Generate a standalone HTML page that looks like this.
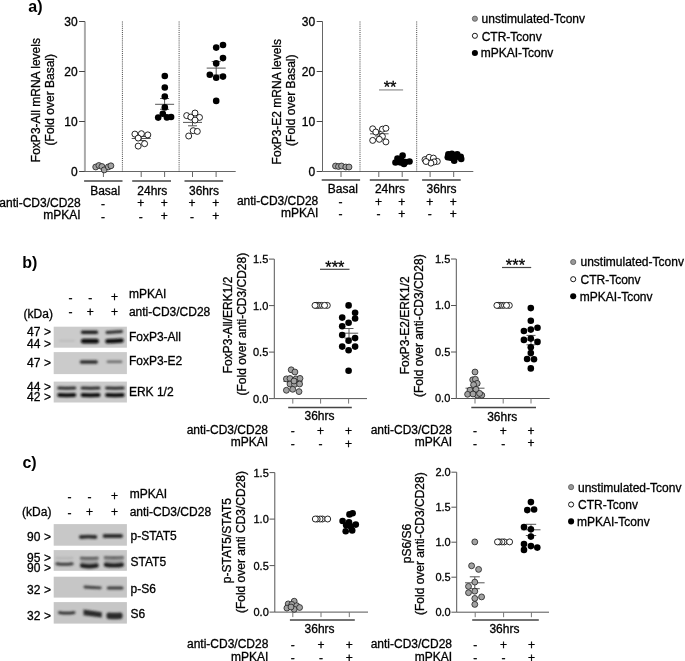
<!DOCTYPE html>
<html><head><meta charset="utf-8"><title>Figure</title>
<style>
html,body{margin:0;padding:0;background:#fff;}
body{width:685px;height:661px;overflow:hidden;}
svg{display:block;font-family:"Liberation Sans", Arial, Helvetica, sans-serif;filter:blur(0.35px);}
text{stroke:#000;stroke-width:0.3px;}
</style></head>
<body>
<svg width="685" height="661" viewBox="0 0 685 661">
<defs>
<filter id="bl" x="-20%" y="-80%" width="140%" height="260%"><feGaussianBlur stdDeviation="0.85"/></filter>
</defs>
<rect width="685" height="661" fill="#fff"/>
<line x1="131.70" y1="138.50" x2="150.70" y2="138.50" stroke="#555" stroke-width="1" />
<line x1="141.20" y1="136.50" x2="141.20" y2="140.50" stroke="#555" stroke-width="1" />
<line x1="136.70" y1="136.50" x2="145.70" y2="136.50" stroke="#555" stroke-width="1" />
<line x1="136.70" y1="140.50" x2="145.70" y2="140.50" stroke="#555" stroke-width="1" />
<line x1="155.10" y1="104.30" x2="174.10" y2="104.30" stroke="#555" stroke-width="1" />
<line x1="164.60" y1="98.50" x2="164.60" y2="109.30" stroke="#555" stroke-width="1" />
<line x1="160.10" y1="98.50" x2="169.10" y2="98.50" stroke="#555" stroke-width="1" />
<line x1="160.10" y1="109.30" x2="169.10" y2="109.30" stroke="#555" stroke-width="1" />
<line x1="183.00" y1="122.40" x2="202.00" y2="122.40" stroke="#555" stroke-width="1" />
<line x1="192.50" y1="119.00" x2="192.50" y2="125.80" stroke="#555" stroke-width="1" />
<line x1="188.00" y1="119.00" x2="197.00" y2="119.00" stroke="#555" stroke-width="1" />
<line x1="188.00" y1="125.80" x2="197.00" y2="125.80" stroke="#555" stroke-width="1" />
<line x1="206.70" y1="68.10" x2="225.70" y2="68.10" stroke="#555" stroke-width="1" />
<line x1="216.20" y1="61.60" x2="216.20" y2="75.00" stroke="#555" stroke-width="1" />
<line x1="211.70" y1="61.60" x2="220.70" y2="61.60" stroke="#555" stroke-width="1" />
<line x1="211.70" y1="75.00" x2="220.70" y2="75.00" stroke="#555" stroke-width="1" />
<line x1="84.90" y1="21.50" x2="84.90" y2="171.50" stroke="#aaa" stroke-width="2" />
<line x1="79.10" y1="171.50" x2="84.90" y2="171.50" stroke="#444" stroke-width="1" />
<text x="77.60" y="175.80" font-size="12" text-anchor="end" >0</text>
<line x1="79.10" y1="121.50" x2="84.90" y2="121.50" stroke="#444" stroke-width="1" />
<text x="77.60" y="125.80" font-size="12" text-anchor="end" >10</text>
<line x1="79.10" y1="71.50" x2="84.90" y2="71.50" stroke="#444" stroke-width="1" />
<text x="77.60" y="75.80" font-size="12" text-anchor="end" >20</text>
<line x1="79.10" y1="21.50" x2="84.90" y2="21.50" stroke="#444" stroke-width="1" />
<text x="77.60" y="25.80" font-size="12" text-anchor="end" >30</text>
<line x1="84.90" y1="171.50" x2="235.70" y2="171.50" stroke="#666" stroke-width="1.2" />
<line x1="103.40" y1="171.50" x2="103.40" y2="177.00" stroke="#666" stroke-width="1" />
<line x1="141.20" y1="171.50" x2="141.20" y2="177.00" stroke="#666" stroke-width="1" />
<line x1="164.60" y1="171.50" x2="164.60" y2="177.00" stroke="#666" stroke-width="1" />
<line x1="192.50" y1="171.50" x2="192.50" y2="177.00" stroke="#666" stroke-width="1" />
<line x1="216.10" y1="171.50" x2="216.10" y2="177.00" stroke="#666" stroke-width="1" />
<line x1="122.40" y1="21.50" x2="122.40" y2="171.50" stroke="#444" stroke-width="1" stroke-dasharray="1 1.1"/>
<line x1="179.10" y1="21.50" x2="179.10" y2="171.50" stroke="#444" stroke-width="1" stroke-dasharray="1 1.1"/>
<line x1="84.10" y1="180.90" x2="122.50" y2="180.90" stroke="#444" stroke-width="1.5" />
<line x1="132.20" y1="180.90" x2="171.00" y2="180.90" stroke="#444" stroke-width="1.5" />
<line x1="184.50" y1="180.90" x2="223.10" y2="180.90" stroke="#444" stroke-width="1.5" />
<text x="105.20" y="195.30" font-size="12" text-anchor="middle" >Basal</text>
<text x="152.30" y="195.30" font-size="12" text-anchor="middle" >24hrs</text>
<text x="204.00" y="195.30" font-size="12" text-anchor="middle" >36hrs</text>
<text x="80.70" y="206.60" font-size="12" text-anchor="end" >anti-CD3/CD28</text>
<text x="80.70" y="219.20" font-size="12" text-anchor="end" >mPKAI</text>
<text x="103.00" y="207.50" font-size="12" text-anchor="middle" >-</text>
<text x="140.80" y="207.10" font-size="12" text-anchor="middle" >+</text>
<text x="164.20" y="207.10" font-size="12" text-anchor="middle" >+</text>
<text x="192.10" y="207.10" font-size="12" text-anchor="middle" >+</text>
<text x="215.70" y="207.10" font-size="12" text-anchor="middle" >+</text>
<text x="103.00" y="220.50" font-size="12" text-anchor="middle" >-</text>
<text x="140.80" y="220.50" font-size="12" text-anchor="middle" >-</text>
<text x="164.20" y="220.10" font-size="12" text-anchor="middle" >+</text>
<text x="192.10" y="220.50" font-size="12" text-anchor="middle" >-</text>
<text x="215.70" y="220.10" font-size="12" text-anchor="middle" >+</text>
<text x="0" y="0" font-size="12" text-anchor="end" transform="translate(39.50,38.10) rotate(-90)">FoxP3-All mRNA levels</text>
<text x="0" y="0" font-size="12" text-anchor="end" transform="translate(54.20,54.00) rotate(-90)">(Fold over Basal)</text>
<circle cx="95.70" cy="167.00" r="2.95" fill="#a2a2a2" stroke="#1e1e1e" stroke-width="0.8"/>
<circle cx="98.90" cy="165.50" r="2.95" fill="#a2a2a2" stroke="#1e1e1e" stroke-width="0.8"/>
<circle cx="101.90" cy="166.50" r="2.95" fill="#a2a2a2" stroke="#1e1e1e" stroke-width="0.8"/>
<circle cx="104.20" cy="169.90" r="2.95" fill="#a2a2a2" stroke="#1e1e1e" stroke-width="0.8"/>
<circle cx="108.30" cy="166.90" r="2.95" fill="#a2a2a2" stroke="#1e1e1e" stroke-width="0.8"/>
<circle cx="110.90" cy="165.80" r="2.95" fill="#a2a2a2" stroke="#1e1e1e" stroke-width="0.8"/>
<circle cx="134.90" cy="134.10" r="3.0" fill="#fff" stroke="#000" stroke-width="0.85"/>
<circle cx="141.40" cy="133.70" r="3.0" fill="#fff" stroke="#000" stroke-width="0.85"/>
<circle cx="147.80" cy="134.90" r="3.0" fill="#fff" stroke="#000" stroke-width="0.85"/>
<circle cx="138.20" cy="138.10" r="3.0" fill="#fff" stroke="#000" stroke-width="0.85"/>
<circle cx="144.60" cy="143.70" r="3.0" fill="#fff" stroke="#000" stroke-width="0.85"/>
<circle cx="138.20" cy="146.10" r="3.0" fill="#fff" stroke="#000" stroke-width="0.85"/>
<circle cx="164.80" cy="76.00" r="3.3" fill="#000"/>
<circle cx="164.80" cy="87.50" r="3.3" fill="#000"/>
<circle cx="164.80" cy="96.50" r="3.3" fill="#000"/>
<circle cx="164.80" cy="107.40" r="3.3" fill="#000"/>
<circle cx="162.80" cy="113.70" r="3.3" fill="#000"/>
<circle cx="158.20" cy="117.60" r="3.3" fill="#000"/>
<circle cx="166.90" cy="117.40" r="3.3" fill="#000"/>
<circle cx="171.10" cy="117.00" r="3.3" fill="#000"/>
<circle cx="186.70" cy="115.60" r="3.0" fill="#fff" stroke="#000" stroke-width="0.85"/>
<circle cx="190.80" cy="117.10" r="3.0" fill="#fff" stroke="#000" stroke-width="0.85"/>
<circle cx="195.00" cy="113.00" r="3.0" fill="#fff" stroke="#000" stroke-width="0.85"/>
<circle cx="199.50" cy="117.40" r="3.0" fill="#fff" stroke="#000" stroke-width="0.85"/>
<circle cx="195.00" cy="120.10" r="3.0" fill="#fff" stroke="#000" stroke-width="0.85"/>
<circle cx="193.20" cy="130.70" r="3.0" fill="#fff" stroke="#000" stroke-width="0.85"/>
<circle cx="197.30" cy="131.40" r="3.0" fill="#fff" stroke="#000" stroke-width="0.85"/>
<circle cx="188.70" cy="136.00" r="3.0" fill="#fff" stroke="#000" stroke-width="0.85"/>
<circle cx="216.20" cy="47.60" r="3.3" fill="#000"/>
<circle cx="223.00" cy="45.00" r="3.3" fill="#000"/>
<circle cx="223.00" cy="58.10" r="3.3" fill="#000"/>
<circle cx="216.20" cy="63.40" r="3.3" fill="#000"/>
<circle cx="209.80" cy="74.80" r="3.3" fill="#000"/>
<circle cx="216.20" cy="77.80" r="3.3" fill="#000"/>
<circle cx="223.00" cy="76.60" r="3.3" fill="#000"/>
<circle cx="216.20" cy="100.90" r="3.3" fill="#000"/>
<line x1="370.00" y1="133.80" x2="388.60" y2="133.80" stroke="#555" stroke-width="1" />
<line x1="379.30" y1="131.50" x2="379.30" y2="136.00" stroke="#555" stroke-width="1" />
<line x1="374.80" y1="131.50" x2="383.80" y2="131.50" stroke="#555" stroke-width="1" />
<line x1="374.80" y1="136.00" x2="383.80" y2="136.00" stroke="#555" stroke-width="1" />
<line x1="322.50" y1="21.50" x2="322.50" y2="171.50" stroke="#666" stroke-width="1" />
<line x1="316.70" y1="171.50" x2="322.50" y2="171.50" stroke="#444" stroke-width="1" />
<text x="315.20" y="175.80" font-size="12" text-anchor="end" >0</text>
<line x1="316.70" y1="121.50" x2="322.50" y2="121.50" stroke="#444" stroke-width="1" />
<text x="315.20" y="125.80" font-size="12" text-anchor="end" >10</text>
<line x1="316.70" y1="71.50" x2="322.50" y2="71.50" stroke="#444" stroke-width="1" />
<text x="315.20" y="75.80" font-size="12" text-anchor="end" >20</text>
<line x1="316.70" y1="21.50" x2="322.50" y2="21.50" stroke="#444" stroke-width="1" />
<text x="315.20" y="25.80" font-size="12" text-anchor="end" >30</text>
<line x1="322.50" y1="171.50" x2="473.30" y2="171.50" stroke="#666" stroke-width="1.2" />
<line x1="341.00" y1="171.50" x2="341.00" y2="177.00" stroke="#666" stroke-width="1" />
<line x1="378.80" y1="171.50" x2="378.80" y2="177.00" stroke="#666" stroke-width="1" />
<line x1="402.20" y1="171.50" x2="402.20" y2="177.00" stroke="#666" stroke-width="1" />
<line x1="430.10" y1="171.50" x2="430.10" y2="177.00" stroke="#666" stroke-width="1" />
<line x1="453.70" y1="171.50" x2="453.70" y2="177.00" stroke="#666" stroke-width="1" />
<line x1="360.00" y1="21.50" x2="360.00" y2="171.50" stroke="#444" stroke-width="1" stroke-dasharray="1 1.1"/>
<line x1="416.70" y1="21.50" x2="416.70" y2="171.50" stroke="#444" stroke-width="1" stroke-dasharray="1 1.1"/>
<line x1="321.70" y1="180.00" x2="360.10" y2="180.00" stroke="#444" stroke-width="1.5" />
<line x1="369.80" y1="180.00" x2="408.60" y2="180.00" stroke="#444" stroke-width="1.5" />
<line x1="422.10" y1="180.00" x2="460.70" y2="180.00" stroke="#444" stroke-width="1.5" />
<text x="342.80" y="192.80" font-size="12" text-anchor="middle" >Basal</text>
<text x="389.90" y="192.80" font-size="12" text-anchor="middle" >24hrs</text>
<text x="441.60" y="192.80" font-size="12" text-anchor="middle" >36hrs</text>
<text x="318.30" y="205.30" font-size="12" text-anchor="end" >anti-CD3/CD28</text>
<text x="318.30" y="217.20" font-size="12" text-anchor="end" >mPKAI</text>
<text x="340.60" y="206.20" font-size="12" text-anchor="middle" >-</text>
<text x="378.40" y="205.80" font-size="12" text-anchor="middle" >+</text>
<text x="401.80" y="205.80" font-size="12" text-anchor="middle" >+</text>
<text x="429.70" y="205.80" font-size="12" text-anchor="middle" >+</text>
<text x="453.30" y="205.80" font-size="12" text-anchor="middle" >+</text>
<text x="340.60" y="217.90" font-size="12" text-anchor="middle" >-</text>
<text x="378.40" y="217.90" font-size="12" text-anchor="middle" >-</text>
<text x="401.80" y="217.50" font-size="12" text-anchor="middle" >+</text>
<text x="429.70" y="217.90" font-size="12" text-anchor="middle" >-</text>
<text x="453.30" y="217.50" font-size="12" text-anchor="middle" >+</text>
<text x="0" y="0" font-size="12" text-anchor="end" transform="translate(280.50,39.00) rotate(-90)">FoxP3-E2 mRNA levels</text>
<text x="0" y="0" font-size="12" text-anchor="end" transform="translate(294.60,54.50) rotate(-90)">(Fold over Basal)</text>
<circle cx="335.50" cy="166.00" r="2.95" fill="#a2a2a2" stroke="#1e1e1e" stroke-width="0.8"/>
<circle cx="338.50" cy="166.50" r="2.95" fill="#a2a2a2" stroke="#1e1e1e" stroke-width="0.8"/>
<circle cx="341.50" cy="166.00" r="2.95" fill="#a2a2a2" stroke="#1e1e1e" stroke-width="0.8"/>
<circle cx="345.80" cy="167.00" r="2.95" fill="#a2a2a2" stroke="#1e1e1e" stroke-width="0.8"/>
<circle cx="349.00" cy="167.00" r="2.95" fill="#a2a2a2" stroke="#1e1e1e" stroke-width="0.8"/>
<circle cx="372.70" cy="128.80" r="3.0" fill="#fff" stroke="#000" stroke-width="0.85"/>
<circle cx="375.80" cy="132.00" r="3.0" fill="#fff" stroke="#000" stroke-width="0.85"/>
<circle cx="382.40" cy="129.20" r="3.0" fill="#fff" stroke="#000" stroke-width="0.85"/>
<circle cx="385.90" cy="128.30" r="3.0" fill="#fff" stroke="#000" stroke-width="0.85"/>
<circle cx="382.40" cy="136.40" r="3.0" fill="#fff" stroke="#000" stroke-width="0.85"/>
<circle cx="372.70" cy="140.40" r="3.0" fill="#fff" stroke="#000" stroke-width="0.85"/>
<circle cx="379.30" cy="139.30" r="3.0" fill="#fff" stroke="#000" stroke-width="0.85"/>
<circle cx="385.90" cy="141.90" r="3.0" fill="#fff" stroke="#000" stroke-width="0.85"/>
<circle cx="402.60" cy="155.50" r="3.3" fill="#000"/>
<circle cx="397.50" cy="158.50" r="3.3" fill="#000"/>
<circle cx="401.00" cy="159.00" r="3.3" fill="#000"/>
<circle cx="395.50" cy="162.50" r="3.3" fill="#000"/>
<circle cx="400.50" cy="162.50" r="3.3" fill="#000"/>
<circle cx="405.50" cy="162.00" r="3.3" fill="#000"/>
<circle cx="409.50" cy="161.50" r="3.3" fill="#000"/>
<circle cx="404.00" cy="164.00" r="3.3" fill="#000"/>
<circle cx="425.00" cy="159.60" r="3.0" fill="#fff" stroke="#000" stroke-width="0.85"/>
<circle cx="429.10" cy="157.30" r="3.0" fill="#fff" stroke="#000" stroke-width="0.85"/>
<circle cx="433.40" cy="158.10" r="3.0" fill="#fff" stroke="#000" stroke-width="0.85"/>
<circle cx="437.30" cy="161.40" r="3.0" fill="#fff" stroke="#000" stroke-width="0.85"/>
<circle cx="434.10" cy="161.90" r="3.0" fill="#fff" stroke="#000" stroke-width="0.85"/>
<circle cx="430.90" cy="163.10" r="3.0" fill="#fff" stroke="#000" stroke-width="0.85"/>
<circle cx="426.00" cy="161.50" r="3.0" fill="#fff" stroke="#000" stroke-width="0.85"/>
<circle cx="448.40" cy="154.30" r="3.3" fill="#000"/>
<circle cx="451.90" cy="153.80" r="3.3" fill="#000"/>
<circle cx="457.20" cy="154.30" r="3.3" fill="#000"/>
<circle cx="460.70" cy="156.70" r="3.3" fill="#000"/>
<circle cx="461.20" cy="159.00" r="3.3" fill="#000"/>
<circle cx="454.20" cy="160.80" r="3.3" fill="#000"/>
<circle cx="447.80" cy="157.30" r="3.3" fill="#000"/>
<circle cx="450.70" cy="157.80" r="3.3" fill="#000"/>
<circle cx="455.50" cy="157.20" r="3.3" fill="#000"/>
<line x1="379.00" y1="89.90" x2="403.10" y2="89.90" stroke="#aaa" stroke-width="1.6" />
<text x="390.10" y="93.40" font-size="16.5" text-anchor="middle" stroke="#000" stroke-width="0.3">**</text>
<circle cx="474.90" cy="18.70" r="2.6" fill="#999" stroke="#555" stroke-width="0.8"/>
<text x="481.60" y="22.60" font-size="12" text-anchor="start" >unstimulated-Tconv</text>
<circle cx="474.90" cy="35.80" r="2.55" fill="#fff" stroke="#000" stroke-width="0.9"/>
<text x="481.70" y="40.50" font-size="12" text-anchor="start" >CTR-Tconv</text>
<circle cx="474.90" cy="53.00" r="3.05" fill="#000"/>
<text x="480.70" y="56.80" font-size="12" text-anchor="start" >mPKAI-Tconv</text>
<text x="70.50" y="301.80" font-size="12" text-anchor="middle" >-</text>
<text x="90.20" y="301.80" font-size="12" text-anchor="middle" >-</text>
<text x="114.60" y="301.40" font-size="12" text-anchor="middle" >+</text>
<text x="70.50" y="316.30" font-size="12" text-anchor="middle" >-</text>
<text x="90.20" y="315.90" font-size="12" text-anchor="middle" >+</text>
<text x="114.60" y="315.90" font-size="12" text-anchor="middle" >+</text>
<text x="128.90" y="298.10" font-size="12" text-anchor="start" >mPKAI</text>
<text x="128.90" y="315.70" font-size="12" text-anchor="start" >anti-CD3/CD28</text>
<text x="23.60" y="317.90" font-size="12" text-anchor="start" >(kDa)</text>
<rect x="53.7" y="326.70" width="73.2" height="21.00" fill="#cbcbcb"/>
<path d="M59.60,339.90 Q66.90,339.90 74.20,339.90 Q75.00,339.90 75.00,340.70 Q75.00,341.50 74.20,341.50 Q66.90,341.50 59.60,341.50 Q58.80,341.50 58.80,340.70 Q58.80,339.90 59.60,339.90 Z" fill="#b8b8b8" filter="url(#bl)"/>
<path d="M82.60,330.60 Q89.50,330.60 96.40,330.60 Q98.10,330.60 98.10,332.30 Q98.10,334.00 96.40,334.00 Q89.50,334.00 82.60,334.00 Q80.90,334.00 80.90,332.30 Q80.90,330.60 82.60,330.60 Z" fill="#1e1e1e" filter="url(#bl)"/>
<path d="M106.90,331.10 Q114.25,330.60 121.60,330.10 Q123.00,330.10 123.00,331.50 Q123.00,332.90 121.60,332.90 Q114.25,333.40 106.90,333.90 Q105.50,333.90 105.50,332.50 Q105.50,331.10 106.90,331.10 Z" fill="#2a2a2a" filter="url(#bl)"/>
<path d="M83.30,338.80 Q89.95,338.80 96.60,338.80 Q99.00,338.80 99.00,341.20 Q99.00,343.60 96.60,343.60 Q89.95,343.60 83.30,343.60 Q80.90,343.60 80.90,341.20 Q80.90,338.80 83.30,338.80 Z" fill="#0a0a0a" filter="url(#bl)"/>
<path d="M107.40,339.10 Q114.50,338.70 121.60,338.30 Q123.80,338.30 123.80,340.50 Q123.80,342.70 121.60,342.70 Q114.50,343.10 107.40,343.50 Q105.20,343.50 105.20,341.30 Q105.20,339.10 107.40,339.10 Z" fill="#111" filter="url(#bl)"/>
<text x="128.90" y="341.00" font-size="12" text-anchor="start" >FoxP3-All</text>
<text x="40.40" y="335.90" font-size="12" text-anchor="end" >47</text>
<text x="44.00" y="335.90" font-size="12" text-anchor="start" >&gt;</text>
<text x="40.40" y="348.00" font-size="12" text-anchor="end" >44</text>
<text x="44.00" y="348.00" font-size="12" text-anchor="start" >&gt;</text>
<rect x="53.7" y="352.10" width="73.2" height="22.00" fill="#cbcbcb"/>
<path d="M81.50,360.30 Q88.85,360.30 96.20,360.30 Q97.90,360.30 97.90,362.00 Q97.90,363.70 96.20,363.70 Q88.85,363.70 81.50,363.70 Q79.80,363.70 79.80,362.00 Q79.80,360.30 81.50,360.30 Z" fill="#2c2c2c" filter="url(#bl)"/>
<path d="M107.90,360.50 Q114.50,360.50 121.10,360.50 Q122.40,360.50 122.40,361.80 Q122.40,363.10 121.10,363.10 Q114.50,363.10 107.90,363.10 Q106.60,363.10 106.60,361.80 Q106.60,360.50 107.90,360.50 Z" fill="#6a6a6a" filter="url(#bl)"/>
<text x="128.90" y="365.30" font-size="12" text-anchor="start" >FoxP3-E2</text>
<text x="40.40" y="367.30" font-size="12" text-anchor="end" >47</text>
<text x="44.00" y="367.30" font-size="12" text-anchor="start" >&gt;</text>
<rect x="53.7" y="381.60" width="73.2" height="20.90" fill="#cbcbcb"/>
<path d="M58.70,386.50 Q66.75,386.80 74.80,386.50 Q76.30,386.50 76.30,388.00 Q76.30,389.50 74.80,389.50 Q66.75,389.80 58.70,389.50 Q57.20,389.50 57.20,388.00 Q57.20,386.50 58.70,386.50 Z" fill="#2b2b2b" filter="url(#bl)"/>
<path d="M59.20,393.10 Q66.75,393.40 74.30,393.10 Q76.30,393.10 76.30,395.10 Q76.30,397.10 74.30,397.10 Q66.75,397.40 59.20,397.10 Q57.20,397.10 57.20,395.10 Q57.20,393.10 59.20,393.10 Z" fill="#0f0f0f" filter="url(#bl)"/>
<path d="M82.10,386.50 Q90.55,386.80 99.00,386.50 Q100.50,386.50 100.50,388.00 Q100.50,389.50 99.00,389.50 Q90.55,389.80 82.10,389.50 Q80.60,389.50 80.60,388.00 Q80.60,386.50 82.10,386.50 Z" fill="#2b2b2b" filter="url(#bl)"/>
<path d="M82.60,393.10 Q90.55,393.40 98.50,393.10 Q100.50,393.10 100.50,395.10 Q100.50,397.10 98.50,397.10 Q90.55,397.40 82.60,397.10 Q80.60,397.10 80.60,395.10 Q80.60,393.10 82.60,393.10 Z" fill="#0f0f0f" filter="url(#bl)"/>
<path d="M106.60,386.50 Q114.90,386.80 123.20,386.50 Q124.70,386.50 124.70,388.00 Q124.70,389.50 123.20,389.50 Q114.90,389.80 106.60,389.50 Q105.10,389.50 105.10,388.00 Q105.10,386.50 106.60,386.50 Z" fill="#2b2b2b" filter="url(#bl)"/>
<path d="M107.10,393.10 Q114.90,393.40 122.70,393.10 Q124.70,393.10 124.70,395.10 Q124.70,397.10 122.70,397.10 Q114.90,397.40 107.10,397.10 Q105.10,397.10 105.10,395.10 Q105.10,393.10 107.10,393.10 Z" fill="#0f0f0f" filter="url(#bl)"/>
<text x="128.90" y="395.80" font-size="12" text-anchor="start" >ERK 1/2</text>
<text x="40.40" y="390.90" font-size="12" text-anchor="end" >44</text>
<text x="44.00" y="390.90" font-size="12" text-anchor="start" >&gt;</text>
<text x="40.40" y="401.20" font-size="12" text-anchor="end" >42</text>
<text x="44.00" y="401.20" font-size="12" text-anchor="start" >&gt;</text>
<text x="69.60" y="500.60" font-size="12" text-anchor="middle" >-</text>
<text x="89.60" y="500.60" font-size="12" text-anchor="middle" >-</text>
<text x="114.60" y="500.20" font-size="12" text-anchor="middle" >+</text>
<text x="69.60" y="516.60" font-size="12" text-anchor="middle" >-</text>
<text x="89.60" y="516.20" font-size="12" text-anchor="middle" >+</text>
<text x="114.60" y="516.20" font-size="12" text-anchor="middle" >+</text>
<text x="129.70" y="498.00" font-size="12" text-anchor="start" >mPKAI</text>
<text x="129.70" y="516.40" font-size="12" text-anchor="start" >anti-CD3/CD28</text>
<text x="22.10" y="516.20" font-size="12" text-anchor="start" >(kDa)</text>
<rect x="53.7" y="524.10" width="73.2" height="21.60" fill="#c8c8c8"/>
<path d="M80.90,535.10 Q88.15,534.50 95.40,535.10 Q97.30,535.10 97.30,537.00 Q97.30,538.90 95.40,538.90 Q88.15,538.30 80.90,538.90 Q79.00,538.90 79.00,537.00 Q79.00,535.10 80.90,535.10 Z" fill="#2e2e2e" filter="url(#bl)"/>
<path d="M104.60,534.10 Q112.80,534.10 121.00,534.10 Q123.00,534.10 123.00,536.10 Q123.00,538.10 121.00,538.10 Q112.80,538.10 104.60,538.10 Q102.60,538.10 102.60,536.10 Q102.60,534.10 104.60,534.10 Z" fill="#2e2e2e" filter="url(#bl)"/>
<text x="130.50" y="540.10" font-size="12" text-anchor="start" >p-STAT5</text>
<text x="40.40" y="540.90" font-size="12" text-anchor="end" >90</text>
<text x="44.00" y="540.90" font-size="12" text-anchor="start" >&gt;</text>
<rect x="53.7" y="550.10" width="73.2" height="20.70" fill="#c8c8c8"/>
<path d="M56.20,557.20 Q64.50,557.80 72.80,557.20 Q73.60,557.20 73.60,558.00 Q73.60,558.80 72.80,558.80 Q64.50,559.40 56.20,558.80 Q55.40,558.80 55.40,558.00 Q55.40,557.20 56.20,557.20 Z" fill="#acacac" filter="url(#bl)"/>
<path d="M56.90,562.20 Q64.50,563.20 72.10,562.20 Q73.60,562.20 73.60,563.70 Q73.60,565.20 72.10,565.20 Q64.50,566.20 56.90,565.20 Q55.40,565.20 55.40,563.70 Q55.40,562.20 56.90,562.20 Z" fill="#3a3a3a" filter="url(#bl)"/>
<rect x="80.40" y="558.00" width="17.80" height="7.60" fill="#a4a4a4" filter="url(#bl)"/>
<path d="M81.10,556.80 Q89.30,557.40 97.50,556.80 Q98.70,556.80 98.70,558.00 Q98.70,559.20 97.50,559.20 Q89.30,559.80 81.10,559.20 Q79.90,559.20 79.90,558.00 Q79.90,556.80 81.10,556.80 Z" fill="#585858" filter="url(#bl)"/>
<path d="M82.00,563.50 Q89.30,564.90 96.60,563.50 Q98.70,563.50 98.70,565.60 Q98.70,567.70 96.60,567.70 Q89.30,569.10 82.00,567.70 Q79.90,567.70 79.90,565.60 Q79.90,563.50 82.00,563.50 Z" fill="#1e1e1e" filter="url(#bl)"/>
<rect x="104.30" y="557.40" width="19.20" height="7.40" fill="#a4a4a4" filter="url(#bl)"/>
<path d="M105.00,556.20 Q113.90,556.80 122.80,556.20 Q124.00,556.20 124.00,557.40 Q124.00,558.60 122.80,558.60 Q113.90,559.20 105.00,558.60 Q103.80,558.60 103.80,557.40 Q103.80,556.20 105.00,556.20 Z" fill="#585858" filter="url(#bl)"/>
<path d="M105.90,562.70 Q113.90,564.10 121.90,562.70 Q124.00,562.70 124.00,564.80 Q124.00,566.90 121.90,566.90 Q113.90,568.30 105.90,566.90 Q103.80,566.90 103.80,564.80 Q103.80,562.70 105.90,562.70 Z" fill="#1e1e1e" filter="url(#bl)"/>
<text x="130.50" y="565.50" font-size="12" text-anchor="start" >STAT5</text>
<text x="40.40" y="562.00" font-size="12" text-anchor="end" >95</text>
<text x="44.00" y="562.00" font-size="12" text-anchor="start" >&gt;</text>
<text x="40.40" y="571.80" font-size="12" text-anchor="end" >90</text>
<text x="44.00" y="571.80" font-size="12" text-anchor="start" >&gt;</text>
<rect x="53.7" y="576.70" width="73.2" height="20.90" fill="#c6c6c6"/>
<path d="M84.90,585.60 Q92.60,586.00 100.30,586.40 Q101.70,586.40 101.70,587.80 Q101.70,589.20 100.30,589.20 Q92.60,588.80 84.90,588.40 Q83.50,588.40 83.50,587.00 Q83.50,585.60 84.90,585.60 Z" fill="#404040" filter="url(#bl)"/>
<path d="M108.30,586.50 Q115.15,586.50 122.00,586.50 Q123.50,586.50 123.50,588.00 Q123.50,589.50 122.00,589.50 Q115.15,589.50 108.30,589.50 Q106.80,589.50 106.80,588.00 Q106.80,586.50 108.30,586.50 Z" fill="#3a3a3a" filter="url(#bl)"/>
<text x="130.50" y="593.00" font-size="12" text-anchor="start" >p-S6</text>
<text x="40.40" y="593.80" font-size="12" text-anchor="end" >32</text>
<text x="44.00" y="593.80" font-size="12" text-anchor="start" >&gt;</text>
<rect x="53.7" y="602.10" width="73.2" height="21.50" fill="#c6c6c6"/>
<path d="M59.40,611.20 Q66.70,612.20 74.00,611.20 Q75.40,611.20 75.40,612.60 Q75.40,614.00 74.00,614.00 Q66.70,615.00 59.40,614.00 Q58.00,614.00 58.00,612.60 Q58.00,611.20 59.40,611.20 Z" fill="#2a2a2a" filter="url(#bl)"/>
<path d="M83.5,609.6 L101.8,612.2 L101.8,617.6 L83.5,615.2 Z" fill="#2a2a2a" filter="url(#bl)"/>
<path d="M108.90,612.50 Q114.50,613.10 120.10,612.50 Q122.60,612.50 122.60,615.70 Q122.60,618.90 120.10,618.90 Q114.50,619.50 108.90,618.90 Q106.40,618.90 106.40,615.70 Q106.40,612.50 108.90,612.50 Z" fill="#2a2a2a" filter="url(#bl)"/>
<text x="130.50" y="617.90" font-size="12" text-anchor="start" >S6</text>
<text x="40.40" y="620.20" font-size="12" text-anchor="end" >32</text>
<text x="44.00" y="620.20" font-size="12" text-anchor="start" >&gt;</text>
<text x="22.20" y="267.50" font-size="16" text-anchor="start" font-weight="bold" style="stroke-width:0">b)</text>
<text x="22.40" y="467.80" font-size="16" text-anchor="start" font-weight="bold" style="stroke-width:0">c)</text>
<text x="28.30" y="11.70" font-size="16" text-anchor="start" font-weight="bold" style="stroke-width:0">a)</text>
<line x1="274.30" y1="259.10" x2="274.30" y2="398.60" stroke="#555" stroke-width="1" />
<line x1="269.00" y1="398.60" x2="274.30" y2="398.60" stroke="#555" stroke-width="1" />
<text x="268.30" y="402.55" font-size="11" text-anchor="end" >0.0</text>
<line x1="269.00" y1="352.10" x2="274.30" y2="352.10" stroke="#555" stroke-width="1" />
<text x="268.30" y="356.05" font-size="11" text-anchor="end" >0.5</text>
<line x1="269.00" y1="305.60" x2="274.30" y2="305.60" stroke="#555" stroke-width="1" />
<text x="268.30" y="309.55" font-size="11" text-anchor="end" >1.0</text>
<line x1="269.00" y1="259.10" x2="274.30" y2="259.10" stroke="#555" stroke-width="1" />
<text x="268.30" y="263.05" font-size="11" text-anchor="end" >1.5</text>
<line x1="274.30" y1="398.60" x2="367.00" y2="398.60" stroke="#555" stroke-width="1" />
<line x1="292.80" y1="398.60" x2="292.80" y2="403.60" stroke="#777" stroke-width="1" />
<line x1="320.60" y1="398.60" x2="320.60" y2="403.60" stroke="#777" stroke-width="1" />
<line x1="348.60" y1="398.60" x2="348.60" y2="403.60" stroke="#777" stroke-width="1" />
<line x1="288.20" y1="407.60" x2="351.80" y2="407.60" stroke="#444" stroke-width="1.5" />
<text x="319.50" y="419.80" font-size="12" text-anchor="middle" >36hrs</text>
<text x="292.80" y="435.10" font-size="12" text-anchor="middle" >-</text>
<text x="320.60" y="434.70" font-size="12" text-anchor="middle" >+</text>
<text x="348.60" y="434.70" font-size="12" text-anchor="middle" >+</text>
<text x="292.80" y="448.10" font-size="12" text-anchor="middle" >-</text>
<text x="320.60" y="448.10" font-size="12" text-anchor="middle" >-</text>
<text x="348.60" y="447.70" font-size="12" text-anchor="middle" >+</text>
<text x="268.00" y="433.60" font-size="12" text-anchor="end" >anti-CD3/CD28</text>
<text x="268.00" y="445.90" font-size="12" text-anchor="end" >mPKAI</text>
<text x="0" y="0" font-size="12" text-anchor="end" transform="translate(232.20,276.60) rotate(-90)">FoxP3-All/ERK1/2</text>
<text x="0" y="0" font-size="12" text-anchor="end" transform="translate(246.00,252.80) rotate(-90)">(Fold over anti-CD3/CD28)</text>
<line x1="320.00" y1="269.30" x2="349.50" y2="269.30" stroke="#444" stroke-width="1.2" />
<text x="334.90" y="272.90" font-size="16.5" text-anchor="middle" stroke="#000" stroke-width="0.3">***</text>
<line x1="283.50" y1="381.50" x2="302.50" y2="381.50" stroke="#555" stroke-width="1" />
<line x1="293.00" y1="379.00" x2="293.00" y2="384.00" stroke="#555" stroke-width="1" />
<line x1="288.50" y1="379.00" x2="297.50" y2="379.00" stroke="#555" stroke-width="1" />
<line x1="288.50" y1="384.00" x2="297.50" y2="384.00" stroke="#555" stroke-width="1" />
<circle cx="291.20" cy="369.80" r="2.95" fill="#a2a2a2" stroke="#1e1e1e" stroke-width="0.8"/>
<circle cx="294.90" cy="372.00" r="2.95" fill="#a2a2a2" stroke="#1e1e1e" stroke-width="0.8"/>
<circle cx="286.40" cy="378.90" r="2.95" fill="#a2a2a2" stroke="#1e1e1e" stroke-width="0.8"/>
<circle cx="290.00" cy="378.50" r="2.95" fill="#a2a2a2" stroke="#1e1e1e" stroke-width="0.8"/>
<circle cx="296.00" cy="378.90" r="2.95" fill="#a2a2a2" stroke="#1e1e1e" stroke-width="0.8"/>
<circle cx="300.00" cy="378.40" r="2.95" fill="#a2a2a2" stroke="#1e1e1e" stroke-width="0.8"/>
<circle cx="290.00" cy="384.00" r="2.95" fill="#a2a2a2" stroke="#1e1e1e" stroke-width="0.8"/>
<circle cx="294.50" cy="384.40" r="2.95" fill="#a2a2a2" stroke="#1e1e1e" stroke-width="0.8"/>
<circle cx="299.60" cy="384.00" r="2.95" fill="#a2a2a2" stroke="#1e1e1e" stroke-width="0.8"/>
<circle cx="286.40" cy="390.30" r="2.95" fill="#a2a2a2" stroke="#1e1e1e" stroke-width="0.8"/>
<circle cx="292.70" cy="389.30" r="2.95" fill="#a2a2a2" stroke="#1e1e1e" stroke-width="0.8"/>
<circle cx="299.00" cy="391.60" r="2.95" fill="#a2a2a2" stroke="#1e1e1e" stroke-width="0.8"/>
<circle cx="294.00" cy="381.00" r="2.95" fill="#a2a2a2" stroke="#1e1e1e" stroke-width="0.8"/>
<circle cx="321.40" cy="305.40" r="3.0" fill="#fff" stroke="#000" stroke-width="0.85"/>
<circle cx="318.60" cy="305.40" r="3.0" fill="#fff" stroke="#000" stroke-width="0.85"/>
<circle cx="316.60" cy="305.40" r="3.0" fill="#fff" stroke="#000" stroke-width="0.85"/>
<circle cx="315.00" cy="305.40" r="3.0" fill="#fff" stroke="#000" stroke-width="0.85"/>
<circle cx="327.30" cy="305.40" r="3.0" fill="#fff" stroke="#000" stroke-width="0.85"/>
<circle cx="324.60" cy="305.40" r="3.0" fill="#fff" stroke="#000" stroke-width="0.85"/>
<line x1="339.80" y1="333.20" x2="358.20" y2="333.20" stroke="#555" stroke-width="1" />
<line x1="349.00" y1="328.50" x2="349.00" y2="338.10" stroke="#555" stroke-width="1" />
<line x1="344.50" y1="328.50" x2="353.50" y2="328.50" stroke="#555" stroke-width="1" />
<line x1="344.50" y1="338.10" x2="353.50" y2="338.10" stroke="#555" stroke-width="1" />
<circle cx="348.60" cy="305.40" r="3.3" fill="#000"/>
<circle cx="355.10" cy="312.70" r="3.3" fill="#000"/>
<circle cx="342.20" cy="317.60" r="3.3" fill="#000"/>
<circle cx="355.10" cy="318.50" r="3.3" fill="#000"/>
<circle cx="348.60" cy="322.70" r="3.3" fill="#000"/>
<circle cx="342.20" cy="326.30" r="3.3" fill="#000"/>
<circle cx="342.20" cy="335.00" r="3.3" fill="#000"/>
<circle cx="348.60" cy="340.80" r="3.3" fill="#000"/>
<circle cx="355.10" cy="338.10" r="3.3" fill="#000"/>
<circle cx="342.20" cy="346.60" r="3.3" fill="#000"/>
<circle cx="355.10" cy="346.60" r="3.3" fill="#000"/>
<circle cx="348.60" cy="350.20" r="3.3" fill="#000"/>
<circle cx="348.60" cy="370.70" r="3.3" fill="#000"/>
<line x1="456.30" y1="259.00" x2="456.30" y2="398.50" stroke="#555" stroke-width="1" />
<line x1="451.00" y1="398.50" x2="456.30" y2="398.50" stroke="#555" stroke-width="1" />
<text x="450.30" y="402.45" font-size="11" text-anchor="end" >0.0</text>
<line x1="451.00" y1="352.00" x2="456.30" y2="352.00" stroke="#555" stroke-width="1" />
<text x="450.30" y="355.95" font-size="11" text-anchor="end" >0.5</text>
<line x1="451.00" y1="305.50" x2="456.30" y2="305.50" stroke="#555" stroke-width="1" />
<text x="450.30" y="309.45" font-size="11" text-anchor="end" >1.0</text>
<line x1="451.00" y1="259.00" x2="456.30" y2="259.00" stroke="#555" stroke-width="1" />
<text x="450.30" y="262.95" font-size="11" text-anchor="end" >1.5</text>
<line x1="456.30" y1="398.50" x2="549.70" y2="398.50" stroke="#555" stroke-width="1" />
<line x1="475.00" y1="398.50" x2="475.00" y2="403.50" stroke="#777" stroke-width="1" />
<line x1="503.20" y1="398.50" x2="503.20" y2="403.50" stroke="#777" stroke-width="1" />
<line x1="531.00" y1="398.50" x2="531.00" y2="403.50" stroke="#777" stroke-width="1" />
<line x1="471.30" y1="407.40" x2="536.00" y2="407.40" stroke="#444" stroke-width="1.5" />
<text x="502.20" y="420.50" font-size="12" text-anchor="middle" >36hrs</text>
<text x="475.00" y="435.30" font-size="12" text-anchor="middle" >-</text>
<text x="503.20" y="434.90" font-size="12" text-anchor="middle" >+</text>
<text x="531.00" y="434.90" font-size="12" text-anchor="middle" >+</text>
<text x="475.00" y="447.80" font-size="12" text-anchor="middle" >-</text>
<text x="503.20" y="447.80" font-size="12" text-anchor="middle" >-</text>
<text x="531.00" y="447.40" font-size="12" text-anchor="middle" >+</text>
<text x="452.00" y="433.60" font-size="12" text-anchor="end" >anti-CD3/CD28</text>
<text x="452.00" y="446.10" font-size="12" text-anchor="end" >mPKAI</text>
<text x="0" y="0" font-size="12" text-anchor="end" transform="translate(409.00,276.30) rotate(-90)">FoxP3-E2/ERK1/2</text>
<text x="0" y="0" font-size="12" text-anchor="end" transform="translate(423.20,254.30) rotate(-90)">(Fold over anti-CD3/CD28)</text>
<line x1="502.00" y1="267.50" x2="531.20" y2="267.50" stroke="#444" stroke-width="1.2" />
<text x="515.50" y="271.20" font-size="16.5" text-anchor="middle" stroke="#000" stroke-width="0.3">***</text>
<line x1="465.50" y1="388.20" x2="484.50" y2="388.20" stroke="#555" stroke-width="1" />
<line x1="475.00" y1="385.50" x2="475.00" y2="391.00" stroke="#555" stroke-width="1" />
<line x1="470.50" y1="385.50" x2="479.50" y2="385.50" stroke="#555" stroke-width="1" />
<line x1="470.50" y1="391.00" x2="479.50" y2="391.00" stroke="#555" stroke-width="1" />
<circle cx="475.00" cy="372.00" r="2.95" fill="#a2a2a2" stroke="#1e1e1e" stroke-width="0.8"/>
<circle cx="472.70" cy="379.80" r="2.95" fill="#a2a2a2" stroke="#1e1e1e" stroke-width="0.8"/>
<circle cx="475.40" cy="379.30" r="2.95" fill="#a2a2a2" stroke="#1e1e1e" stroke-width="0.8"/>
<circle cx="477.20" cy="383.40" r="2.95" fill="#a2a2a2" stroke="#1e1e1e" stroke-width="0.8"/>
<circle cx="473.60" cy="384.70" r="2.95" fill="#a2a2a2" stroke="#1e1e1e" stroke-width="0.8"/>
<circle cx="470.00" cy="390.20" r="2.95" fill="#a2a2a2" stroke="#1e1e1e" stroke-width="0.8"/>
<circle cx="476.00" cy="389.40" r="2.95" fill="#a2a2a2" stroke="#1e1e1e" stroke-width="0.8"/>
<circle cx="467.60" cy="394.30" r="2.95" fill="#a2a2a2" stroke="#1e1e1e" stroke-width="0.8"/>
<circle cx="477.20" cy="395.20" r="2.95" fill="#a2a2a2" stroke="#1e1e1e" stroke-width="0.8"/>
<circle cx="481.80" cy="395.20" r="2.95" fill="#a2a2a2" stroke="#1e1e1e" stroke-width="0.8"/>
<circle cx="479.60" cy="393.40" r="2.95" fill="#a2a2a2" stroke="#1e1e1e" stroke-width="0.8"/>
<circle cx="473.00" cy="394.00" r="2.95" fill="#a2a2a2" stroke="#1e1e1e" stroke-width="0.8"/>
<circle cx="503.30" cy="305.40" r="3.0" fill="#fff" stroke="#000" stroke-width="0.85"/>
<circle cx="500.50" cy="305.40" r="3.0" fill="#fff" stroke="#000" stroke-width="0.85"/>
<circle cx="498.50" cy="305.40" r="3.0" fill="#fff" stroke="#000" stroke-width="0.85"/>
<circle cx="496.90" cy="305.40" r="3.0" fill="#fff" stroke="#000" stroke-width="0.85"/>
<circle cx="509.30" cy="305.40" r="3.0" fill="#fff" stroke="#000" stroke-width="0.85"/>
<circle cx="506.50" cy="305.40" r="3.0" fill="#fff" stroke="#000" stroke-width="0.85"/>
<line x1="521.80" y1="340.00" x2="540.20" y2="340.00" stroke="#555" stroke-width="1" />
<line x1="531.00" y1="335.40" x2="531.00" y2="344.80" stroke="#555" stroke-width="1" />
<line x1="526.50" y1="335.40" x2="535.50" y2="335.40" stroke="#555" stroke-width="1" />
<line x1="526.50" y1="344.80" x2="535.50" y2="344.80" stroke="#555" stroke-width="1" />
<circle cx="530.80" cy="308.10" r="3.3" fill="#000"/>
<circle cx="530.80" cy="320.80" r="3.3" fill="#000"/>
<circle cx="523.90" cy="331.00" r="3.3" fill="#000"/>
<circle cx="530.80" cy="329.60" r="3.3" fill="#000"/>
<circle cx="537.50" cy="327.70" r="3.3" fill="#000"/>
<circle cx="523.90" cy="339.90" r="3.3" fill="#000"/>
<circle cx="530.80" cy="338.60" r="3.3" fill="#000"/>
<circle cx="537.50" cy="341.90" r="3.3" fill="#000"/>
<circle cx="530.80" cy="347.20" r="3.3" fill="#000"/>
<circle cx="530.80" cy="353.10" r="3.3" fill="#000"/>
<circle cx="527.10" cy="359.00" r="3.3" fill="#000"/>
<circle cx="534.00" cy="359.30" r="3.3" fill="#000"/>
<circle cx="530.80" cy="368.40" r="3.3" fill="#000"/>
<circle cx="573.20" cy="262.00" r="2.6" fill="#999" stroke="#555" stroke-width="0.8"/>
<text x="580.50" y="266.30" font-size="12" text-anchor="start" >unstimulated-Tconv</text>
<circle cx="573.20" cy="279.20" r="2.55" fill="#fff" stroke="#000" stroke-width="0.9"/>
<text x="580.50" y="283.90" font-size="12" text-anchor="start" >CTR-Tconv</text>
<circle cx="573.20" cy="296.20" r="3.05" fill="#000"/>
<text x="579.80" y="300.60" font-size="12" text-anchor="start" >mPKAI-Tconv</text>
<line x1="274.80" y1="472.60" x2="274.80" y2="612.10" stroke="#555" stroke-width="1" />
<line x1="269.50" y1="612.10" x2="274.80" y2="612.10" stroke="#555" stroke-width="1" />
<text x="268.80" y="616.05" font-size="11" text-anchor="end" >0.0</text>
<line x1="269.50" y1="565.60" x2="274.80" y2="565.60" stroke="#555" stroke-width="1" />
<text x="268.80" y="569.55" font-size="11" text-anchor="end" >0.5</text>
<line x1="269.50" y1="519.10" x2="274.80" y2="519.10" stroke="#555" stroke-width="1" />
<text x="268.80" y="523.05" font-size="11" text-anchor="end" >1.0</text>
<line x1="269.50" y1="472.60" x2="274.80" y2="472.60" stroke="#555" stroke-width="1" />
<text x="268.80" y="476.55" font-size="11" text-anchor="end" >1.5</text>
<line x1="274.80" y1="612.10" x2="368.00" y2="612.10" stroke="#555" stroke-width="1" />
<line x1="292.80" y1="612.10" x2="292.80" y2="617.10" stroke="#777" stroke-width="1" />
<line x1="321.00" y1="612.10" x2="321.00" y2="617.10" stroke="#777" stroke-width="1" />
<line x1="349.30" y1="612.10" x2="349.30" y2="617.10" stroke="#777" stroke-width="1" />
<line x1="289.90" y1="619.90" x2="354.80" y2="619.90" stroke="#444" stroke-width="1.5" />
<text x="319.60" y="633.00" font-size="12" text-anchor="middle" >36hrs</text>
<text x="292.80" y="649.20" font-size="12" text-anchor="middle" >-</text>
<text x="321.00" y="648.80" font-size="12" text-anchor="middle" >+</text>
<text x="349.30" y="648.80" font-size="12" text-anchor="middle" >+</text>
<text x="292.80" y="662.30" font-size="12" text-anchor="middle" >-</text>
<text x="321.00" y="662.30" font-size="12" text-anchor="middle" >-</text>
<text x="349.30" y="661.90" font-size="12" text-anchor="middle" >+</text>
<text x="268.40" y="647.90" font-size="12" text-anchor="end" >anti-CD3/CD28</text>
<text x="268.40" y="661.00" font-size="12" text-anchor="end" >mPKAI</text>
<text x="0" y="0" font-size="12" text-anchor="end" transform="translate(231.00,498.10) rotate(-90)">p-STAT5/STAT5</text>
<text x="0" y="0" font-size="12" text-anchor="end" transform="translate(245.10,471.00) rotate(-90)">(Fold over anti CD3/CD28)</text>
<circle cx="294.20" cy="601.20" r="2.95" fill="#a2a2a2" stroke="#1e1e1e" stroke-width="0.8"/>
<circle cx="288.20" cy="603.90" r="2.95" fill="#a2a2a2" stroke="#1e1e1e" stroke-width="0.8"/>
<circle cx="291.80" cy="604.40" r="2.95" fill="#a2a2a2" stroke="#1e1e1e" stroke-width="0.8"/>
<circle cx="296.70" cy="605.70" r="2.95" fill="#a2a2a2" stroke="#1e1e1e" stroke-width="0.8"/>
<circle cx="286.90" cy="608.10" r="2.95" fill="#a2a2a2" stroke="#1e1e1e" stroke-width="0.8"/>
<circle cx="294.20" cy="609.30" r="2.95" fill="#a2a2a2" stroke="#1e1e1e" stroke-width="0.8"/>
<circle cx="299.60" cy="607.50" r="2.95" fill="#a2a2a2" stroke="#1e1e1e" stroke-width="0.8"/>
<circle cx="291.00" cy="607.00" r="2.95" fill="#a2a2a2" stroke="#1e1e1e" stroke-width="0.8"/>
<circle cx="322.40" cy="519.00" r="3.0" fill="#fff" stroke="#000" stroke-width="0.85"/>
<circle cx="320.10" cy="519.00" r="3.0" fill="#fff" stroke="#000" stroke-width="0.85"/>
<circle cx="317.20" cy="519.00" r="3.0" fill="#fff" stroke="#000" stroke-width="0.85"/>
<circle cx="315.30" cy="519.00" r="3.0" fill="#fff" stroke="#000" stroke-width="0.85"/>
<circle cx="327.70" cy="519.00" r="3.0" fill="#fff" stroke="#000" stroke-width="0.85"/>
<circle cx="349.50" cy="514.40" r="3.3" fill="#000"/>
<circle cx="352.60" cy="513.20" r="3.3" fill="#000"/>
<circle cx="342.60" cy="521.00" r="3.3" fill="#000"/>
<circle cx="349.00" cy="522.20" r="3.3" fill="#000"/>
<circle cx="355.80" cy="524.60" r="3.3" fill="#000"/>
<circle cx="346.20" cy="525.30" r="3.3" fill="#000"/>
<circle cx="350.80" cy="526.40" r="3.3" fill="#000"/>
<circle cx="345.70" cy="531.30" r="3.3" fill="#000"/>
<circle cx="352.20" cy="530.40" r="3.3" fill="#000"/>
<line x1="456.70" y1="472.20" x2="456.70" y2="612.20" stroke="#555" stroke-width="1" />
<line x1="451.40" y1="612.20" x2="456.70" y2="612.20" stroke="#555" stroke-width="1" />
<text x="450.70" y="616.15" font-size="11" text-anchor="end" >0.0</text>
<line x1="451.40" y1="577.20" x2="456.70" y2="577.20" stroke="#555" stroke-width="1" />
<text x="450.70" y="581.15" font-size="11" text-anchor="end" >0.5</text>
<line x1="451.40" y1="542.20" x2="456.70" y2="542.20" stroke="#555" stroke-width="1" />
<text x="450.70" y="546.15" font-size="11" text-anchor="end" >1.0</text>
<line x1="451.40" y1="507.20" x2="456.70" y2="507.20" stroke="#555" stroke-width="1" />
<text x="450.70" y="511.15" font-size="11" text-anchor="end" >1.5</text>
<line x1="451.40" y1="472.20" x2="456.70" y2="472.20" stroke="#555" stroke-width="1" />
<text x="450.70" y="476.15" font-size="11" text-anchor="end" >2.0</text>
<line x1="456.70" y1="612.20" x2="549.00" y2="612.20" stroke="#555" stroke-width="1" />
<line x1="475.20" y1="612.20" x2="475.20" y2="617.20" stroke="#777" stroke-width="1" />
<line x1="503.60" y1="612.20" x2="503.60" y2="617.20" stroke="#777" stroke-width="1" />
<line x1="531.40" y1="612.20" x2="531.40" y2="617.20" stroke="#777" stroke-width="1" />
<line x1="472.20" y1="619.90" x2="538.80" y2="619.90" stroke="#444" stroke-width="1.5" />
<text x="504.40" y="632.70" font-size="12" text-anchor="middle" >36hrs</text>
<text x="475.20" y="649.20" font-size="12" text-anchor="middle" >-</text>
<text x="503.60" y="648.80" font-size="12" text-anchor="middle" >+</text>
<text x="531.40" y="648.80" font-size="12" text-anchor="middle" >+</text>
<text x="475.20" y="662.30" font-size="12" text-anchor="middle" >-</text>
<text x="503.60" y="662.30" font-size="12" text-anchor="middle" >-</text>
<text x="531.40" y="661.90" font-size="12" text-anchor="middle" >+</text>
<text x="452.00" y="647.90" font-size="12" text-anchor="end" >anti-CD3/CD28</text>
<text x="452.00" y="661.00" font-size="12" text-anchor="end" >mPKAI</text>
<text x="0" y="0" font-size="12" text-anchor="end" transform="translate(410.70,523.90) rotate(-90)">pS6/S6</text>
<text x="0" y="0" font-size="12" text-anchor="end" transform="translate(424.00,472.30) rotate(-90)">(Fold over anti-CD3/CD28)</text>
<line x1="465.00" y1="582.80" x2="484.60" y2="582.80" stroke="#555" stroke-width="1" />
<line x1="474.80" y1="576.80" x2="474.80" y2="588.70" stroke="#555" stroke-width="1" />
<line x1="469.80" y1="576.80" x2="479.80" y2="576.80" stroke="#555" stroke-width="1" />
<line x1="469.80" y1="588.70" x2="479.80" y2="588.70" stroke="#555" stroke-width="1" />
<circle cx="474.80" cy="541.90" r="2.95" fill="#a2a2a2" stroke="#1e1e1e" stroke-width="0.8"/>
<circle cx="471.60" cy="565.80" r="2.95" fill="#a2a2a2" stroke="#1e1e1e" stroke-width="0.8"/>
<circle cx="478.60" cy="569.40" r="2.95" fill="#a2a2a2" stroke="#1e1e1e" stroke-width="0.8"/>
<circle cx="474.80" cy="582.10" r="2.95" fill="#a2a2a2" stroke="#1e1e1e" stroke-width="0.8"/>
<circle cx="468.50" cy="586.40" r="2.95" fill="#a2a2a2" stroke="#1e1e1e" stroke-width="0.8"/>
<circle cx="468.50" cy="592.70" r="2.95" fill="#a2a2a2" stroke="#1e1e1e" stroke-width="0.8"/>
<circle cx="474.80" cy="591.20" r="2.95" fill="#a2a2a2" stroke="#1e1e1e" stroke-width="0.8"/>
<circle cx="481.60" cy="596.90" r="2.95" fill="#a2a2a2" stroke="#1e1e1e" stroke-width="0.8"/>
<circle cx="474.80" cy="598.40" r="2.95" fill="#a2a2a2" stroke="#1e1e1e" stroke-width="0.8"/>
<circle cx="474.80" cy="604.40" r="2.95" fill="#a2a2a2" stroke="#1e1e1e" stroke-width="0.8"/>
<circle cx="504.30" cy="541.90" r="3.0" fill="#fff" stroke="#000" stroke-width="0.85"/>
<circle cx="502.00" cy="541.90" r="3.0" fill="#fff" stroke="#000" stroke-width="0.85"/>
<circle cx="499.20" cy="541.90" r="3.0" fill="#fff" stroke="#000" stroke-width="0.85"/>
<circle cx="497.50" cy="541.90" r="3.0" fill="#fff" stroke="#000" stroke-width="0.85"/>
<circle cx="509.60" cy="541.90" r="3.0" fill="#fff" stroke="#000" stroke-width="0.85"/>
<line x1="521.50" y1="529.80" x2="540.50" y2="529.80" stroke="#555" stroke-width="1" />
<line x1="531.00" y1="524.30" x2="531.00" y2="535.50" stroke="#555" stroke-width="1" />
<line x1="525.80" y1="524.30" x2="536.20" y2="524.30" stroke="#555" stroke-width="1" />
<line x1="525.80" y1="535.50" x2="536.20" y2="535.50" stroke="#555" stroke-width="1" />
<circle cx="530.90" cy="502.10" r="3.3" fill="#000"/>
<circle cx="527.30" cy="510.10" r="3.3" fill="#000"/>
<circle cx="534.10" cy="509.50" r="3.3" fill="#000"/>
<circle cx="524.00" cy="527.10" r="3.3" fill="#000"/>
<circle cx="530.90" cy="529.20" r="3.3" fill="#000"/>
<circle cx="530.90" cy="536.60" r="3.3" fill="#000"/>
<circle cx="524.00" cy="544.00" r="3.3" fill="#000"/>
<circle cx="530.90" cy="546.10" r="3.3" fill="#000"/>
<circle cx="537.30" cy="547.60" r="3.3" fill="#000"/>
<circle cx="524.00" cy="549.90" r="3.3" fill="#000"/>
<circle cx="571.10" cy="487.10" r="2.6" fill="#999" stroke="#555" stroke-width="0.8"/>
<text x="578.00" y="491.70" font-size="12" text-anchor="start" >unstimulated-Tconv</text>
<circle cx="571.10" cy="504.50" r="2.55" fill="#fff" stroke="#000" stroke-width="0.9"/>
<text x="578.00" y="509.10" font-size="12" text-anchor="start" >CTR-Tconv</text>
<circle cx="571.10" cy="521.40" r="3.05" fill="#000"/>
<text x="577.00" y="525.90" font-size="12" text-anchor="start" >mPKAI-Tconv</text>
</svg>
</body></html>
